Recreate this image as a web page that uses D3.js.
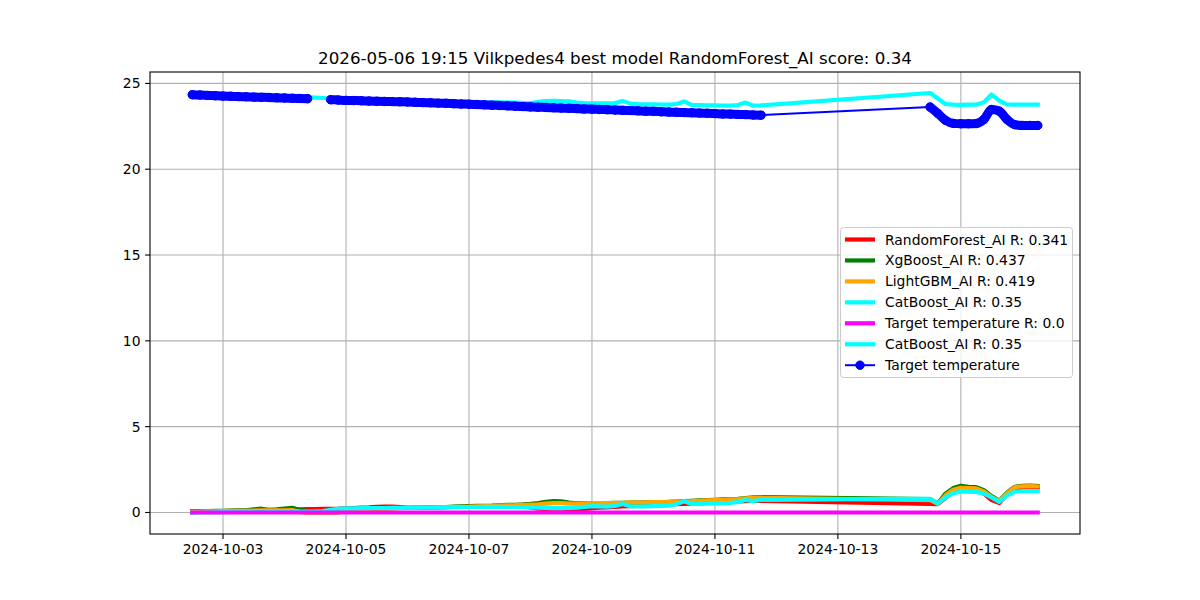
<!DOCTYPE html>
<html><head><meta charset="utf-8">
<script src="https://cdn.jsdelivr.net/npm/d3@7"></script>
<style>body{margin:0;background:#fff} svg{display:block} text{font-family:"DejaVu Sans",sans-serif}</style>
</head><body><svg id="c" width="1200" height="600"></svg>
<script>
const chartTitle = "2026-05-06 19:15 Vilkpedes4 best model RandomForest_AI score: 0.34";
const times = [
"2024-10-02 12:00","2024-10-02 15:00","2024-10-02 18:00","2024-10-02 21:00",
"2024-10-03 00:00","2024-10-03 03:00","2024-10-03 06:00","2024-10-03 09:00","2024-10-03 12:00","2024-10-03 15:00","2024-10-03 18:00","2024-10-03 21:00",
"2024-10-04 00:00","2024-10-04 03:00","2024-10-04 06:00","2024-10-04 09:00","2024-10-04 12:00","2024-10-04 15:00","2024-10-04 18:00","2024-10-04 21:00",
"2024-10-05 00:00","2024-10-05 03:00","2024-10-05 06:00","2024-10-05 09:00","2024-10-05 12:00","2024-10-05 15:00","2024-10-05 18:00","2024-10-05 21:00",
"2024-10-06 00:00","2024-10-06 03:00","2024-10-06 06:00","2024-10-06 09:00","2024-10-06 12:00","2024-10-06 15:00","2024-10-06 18:00","2024-10-06 21:00",
"2024-10-07 00:00","2024-10-07 03:00","2024-10-07 06:00","2024-10-07 09:00","2024-10-07 12:00","2024-10-07 15:00","2024-10-07 18:00","2024-10-07 21:00",
"2024-10-08 00:00","2024-10-08 03:00","2024-10-08 06:00","2024-10-08 09:00","2024-10-08 12:00","2024-10-08 15:00","2024-10-08 18:00","2024-10-08 21:00",
"2024-10-09 00:00","2024-10-09 03:00","2024-10-09 06:00","2024-10-09 09:00","2024-10-09 12:00","2024-10-09 15:00","2024-10-09 18:00","2024-10-09 21:00",
"2024-10-10 00:00","2024-10-10 03:00","2024-10-10 06:00","2024-10-10 09:00","2024-10-10 12:00","2024-10-10 15:00","2024-10-10 18:00","2024-10-10 21:00",
"2024-10-11 00:00","2024-10-11 03:00","2024-10-11 06:00","2024-10-11 09:00","2024-10-11 12:00","2024-10-11 15:00","2024-10-11 18:00",
"2024-10-14 12:00","2024-10-14 15:00","2024-10-14 18:00","2024-10-14 21:00",
"2024-10-15 00:00","2024-10-15 03:00","2024-10-15 06:00","2024-10-15 09:00","2024-10-15 12:00","2024-10-15 15:00","2024-10-15 18:00","2024-10-15 21:00",
"2024-10-16 00:00","2024-10-16 03:00","2024-10-16 06:00"
];
const targetTemp = [
24.34,24.32,24.30,24.28, 24.26,24.25,24.23,24.22,24.20,24.19,24.18,24.16,
24.15,24.13,24.12,24.11,null,null,24.05,24.03,
24.01,24.00,23.99,23.97,23.96,23.95,23.94,23.93,
23.92,23.90,23.88,23.87,23.85,23.84,23.82,23.80,
23.79,23.77,23.75,23.73,23.71,23.69,23.67,23.65,
23.63,23.61,23.60,23.58,23.56,23.55,23.53,23.51,
23.50,23.48,23.47,23.45,23.43,23.42,23.40,23.38,
23.37,23.35,23.33,23.32,23.30,23.29,23.27,23.26,
23.24,23.22,23.21,23.19,23.18,23.16,23.15,
23.62,23.25,22.85,22.67,
22.65,22.65,22.66,22.90,23.48,23.38,22.90,22.60,
22.55,22.55,22.55
];
const catBoostTop = [
24.40,24.38,24.36,24.35, 24.33,24.31,24.30,24.28,24.27,24.25,24.24,24.22,
24.21,24.20,24.19,24.18,24.17,24.15,24.12,24.10,
24.08,24.07,24.06,24.05,24.04,24.02,24.01,24.00,
23.99,23.97,23.96,23.94,23.93,23.91,23.90,23.90,
23.90,23.90,23.90,23.90,23.90,23.89,23.88,23.86,
23.85,23.92,23.97,23.98,23.97,23.95,23.88,23.85,
23.84,23.84,23.83,23.85,23.98,23.82,23.79,23.78,
23.78,23.77,23.76,23.80,23.95,23.74,23.73,23.72,
23.72,23.71,23.70,23.74,23.88,23.70,23.72,
24.44,24.12,23.80,23.76,
23.75,23.76,23.76,23.90,24.35,24.00,23.77,23.76,
23.76,23.76,23.76
];
const randomForest = [
0.05,0.06,0.07,0.08, 0.08,0.09,0.09,0.10,0.10,0.11,0.11,0.12,
0.12,0.14,0.18,0.20,0.20,0.21,0.21,0.22,
0.24,0.26,0.28,0.30,0.33,0.34,0.34,0.32,
0.28,0.27,0.28,0.29,0.30,0.31,0.32,0.33,
0.34,0.35,0.36,0.37,0.38,0.39,0.40,0.38,
0.30,0.22,0.21,0.22,0.22,0.20,0.18,0.20,
0.25,0.28,0.30,0.32,0.35,0.37,0.39,0.41,
0.43,0.45,0.46,0.48,0.50,0.52,0.54,0.56,
0.58,0.60,0.62,0.64,0.66,0.67,0.68,
0.50,0.48,0.85,1.20,
1.32,1.32,1.30,1.10,0.72,0.55,1.05,1.38,
1.45,1.45,1.45
];
const xgBoost = [
0.06,0.08,0.08,0.09, 0.10,0.11,0.12,0.13,0.18,0.22,0.16,0.18,
0.22,0.27,0.15,0.10,0.08,0.08,0.08,0.10,
0.18,0.20,0.21,0.22,0.23,0.24,0.25,0.26,
0.27,0.28,0.29,0.30,0.31,0.32,0.34,0.36,
0.37,0.38,0.39,0.40,0.42,0.44,0.45,0.47,
0.50,0.55,0.62,0.66,0.65,0.58,0.54,0.54,
0.55,0.55,0.55,0.56,0.56,0.57,0.58,0.59,
0.60,0.61,0.62,0.64,0.66,0.68,0.70,0.72,
0.74,0.76,0.78,0.80,0.84,0.88,0.90,
0.78,0.52,1.10,1.42,
1.55,1.50,1.48,1.30,0.95,0.70,1.15,1.50,
1.55,1.57,1.55
];
const lightGBM = [
0.03,0.05,0.06,0.07, 0.08,0.09,0.09,0.10,0.11,0.12,0.12,0.13,
0.13,0.14,0.02,-0.02,-0.03,-0.03,-0.02,-0.03,
0.15,0.18,0.20,0.21,0.22,0.23,0.24,0.25,
0.26,0.27,0.28,0.29,0.30,0.31,0.32,0.33,
0.34,0.36,0.37,0.38,0.40,0.42,0.43,0.45,
0.46,0.48,0.52,0.55,0.55,0.52,0.52,0.53,
0.54,0.54,0.55,0.55,0.56,0.57,0.58,0.59,
0.60,0.61,0.62,0.63,0.65,0.66,0.68,0.70,
0.72,0.74,0.76,0.78,0.82,0.85,0.86,
0.72,0.50,1.00,1.32,
1.44,1.42,1.40,1.22,0.90,0.68,1.12,1.48,
1.52,1.54,1.52
];
const catBoostLow = [
-0.02,0.00,0.00,0.01, 0.02,0.02,0.03,0.03,0.04,0.04,0.05,0.05,
0.06,0.06,0.05,0.05,0.06,0.08,0.15,0.22,
0.24,0.24,0.25,0.25,0.26,0.26,0.27,0.27,
0.28,0.28,0.29,0.29,0.30,0.30,0.31,0.31,
0.32,0.32,0.33,0.33,0.33,0.32,0.32,0.31,
0.30,0.28,0.26,0.25,0.25,0.26,0.28,0.33,
0.37,0.36,0.34,0.38,0.50,0.36,0.35,0.36,
0.37,0.38,0.40,0.48,0.66,0.50,0.50,0.52,
0.53,0.54,0.55,0.62,0.73,0.66,0.74,
0.80,0.52,0.88,1.12,
1.22,1.22,1.20,1.10,0.88,0.62,0.98,1.22,
1.24,1.24,1.24
];
const targetLineTimes = ["2024-10-02 12:00","2024-10-16 06:00"];
const targetLineValues = [0, 0];
const legendLabels = ["RandomForest_AI R: 0.341","XgBoost_AI R: 0.437","LightGBM_AI R: 0.419","CatBoost_AI R: 0.35","Target temperature R: 0.0","CatBoost_AI R: 0.35","Target temperature"];
const legendColors = ["#ff0000","#008000","#ffa500","#00ffff","#ff00ff","#00ffff","#0000ff"];
const yTickValues = [0,5,10,15,20,25];

const parse = d3.utcParse("%Y-%m-%d %H:%M");
const T = times.map(parse);
const svg = d3.select("#c");
const L = 150, R = 1080, TOP = 72, B = 534;

const allVals = [].concat(targetTemp, catBoostTop, randomForest, xgBoost, lightGBM, catBoostLow, targetLineValues).filter(v => v != null);
const yMin = d3.min(allVals), yMax = d3.max(allVals), yPad = (yMax - yMin) * 0.05;
const tExt = d3.extent(T), tPad = (tExt[1] - tExt[0]) * 0.05;
const x = d3.scaleUtc().domain([new Date(+tExt[0] - tPad), new Date(+tExt[1] + tPad)]).range([L, R]);
const y = d3.scaleLinear().domain([yMin - yPad, yMax + yPad]).range([B, TOP]);

svg.append("rect").attr("width",1200).attr("height",600).attr("fill","#fff");

const xTicks = d3.utcDay.every(2).range(x.domain()[0], x.domain()[1]);
const grid = svg.append("g");
xTicks.forEach(t => grid.append("line").attr("x1", x(t)).attr("x2", x(t)).attr("y1", TOP).attr("y2", B).attr("stroke","#b0b0b0").attr("stroke-width",1.1));
yTickValues.forEach(v => grid.append("line").attr("x1", L).attr("x2", R).attr("y1", y(v)).attr("y2", y(v)).attr("stroke","#b0b0b0").attr("stroke-width",1.1));

svg.append("clipPath").attr("id","clp").append("rect").attr("x",L).attr("y",TOP).attr("width",R-L).attr("height",B-TOP);
const plot = svg.append("g").attr("clip-path","url(#clp)");

function drawLine(tt, vals, color, w) {
  const data = tt.map((t, i) => ({t, v: vals[i]}));
  const line = d3.line().defined(d => d.v != null).x(d => x(d.t)).y(d => y(d.v));
  plot.append("path").datum(data).attr("d", line).attr("fill","none").attr("stroke", color)
    .attr("stroke-width", w).attr("stroke-linejoin","round").attr("stroke-linecap","square");
  return data;
}
drawLine(T, randomForest, "#ff0000", 4.2);
drawLine(T, xgBoost, "#008000", 4.2);
drawLine(T, lightGBM, "#ffa500", 4.2);
drawLine(T, catBoostLow, "#00ffff", 4.2);
drawLine(targetLineTimes.map(parse), targetLineValues, "#ff00ff", 4.2);
drawLine(T, catBoostTop, "#00ffff", 4.2);
const tdata = drawLine(T, targetTemp, "#0000ff", 2);
// dense markers merge into a band: draw band along consecutive samples (3h apart)
const runs = [];
let cur = [];
tdata.forEach((d, i) => {
  const prev = tdata[i - 1];
  const contiguous = prev && prev.v != null && d.v != null && (d.t - prev.t) <= 3 * 3600e3;
  if (d.v == null) { if (cur.length) runs.push(cur); cur = []; return; }
  if (!contiguous && cur.length) { runs.push(cur); cur = []; }
  cur.push(d);
});
if (cur.length) runs.push(cur);
const bandLine = d3.line().x(d => x(d.t)).y(d => y(d.v)).curve(d3.curveMonotoneX);
runs.forEach(r => plot.append("path").datum(r).attr("d", bandLine).attr("fill","none").attr("stroke","#0000ff")
  .attr("stroke-width", 9).attr("stroke-linejoin","round").attr("stroke-linecap","round"));
plot.selectAll("circle.m").data(tdata.filter(d => d.v != null)).enter().append("circle")
  .attr("cx", d => x(d.t)).attr("cy", d => y(d.v)).attr("r", 4.2).attr("fill","#0000ff").attr("stroke","#0000ff").attr("stroke-width",1);

// axes
const ax = svg.append("g");
ax.append("rect").attr("x",L).attr("y",TOP).attr("width",R-L).attr("height",B-TOP).attr("fill","none").attr("stroke","#000").attr("stroke-width",1.1);
const fmt = d3.utcFormat("%Y-%m-%d");
xTicks.forEach(t => {
  ax.append("line").attr("x1",x(t)).attr("x2",x(t)).attr("y1",B).attr("y2",B+4.9).attr("stroke","#000").attr("stroke-width",1.1);
  ax.append("text").attr("x",x(t)).attr("y",B+19.5).attr("text-anchor","middle").attr("font-size","13.9px").text(fmt(t));
});
yTickValues.forEach(v => {
  ax.append("line").attr("x1",L-4.9).attr("x2",L).attr("y1",y(v)).attr("y2",y(v)).attr("stroke","#000").attr("stroke-width",1.1);
  ax.append("text").attr("x",L-9.5).attr("y",y(v)).attr("dy","0.36em").attr("text-anchor","end").attr("font-size","13.9px").text(v);
});
svg.append("text").attr("x",(L+R)/2).attr("y",64).attr("text-anchor","middle").attr("font-size","16.7px").text(chartTitle);

// legend
const lg = svg.append("g");
const lx = 840.5, ly = 227.5, lw = 232, lh = 150;
lg.append("rect").attr("x",lx).attr("y",ly).attr("width",lw).attr("height",lh).attr("rx",3)
  .attr("fill","#fff").attr("fill-opacity",0.8).attr("stroke","#cccccc").attr("stroke-width",1);
legendLabels.forEach((lab, i) => {
  const cy = 239.5 + i * 20.95;
  const isMarker = i === legendLabels.length - 1;
  lg.append("line").attr("x1",845).attr("x2",875).attr("y1",cy).attr("y2",cy).attr("stroke",legendColors[i]).attr("stroke-width", isMarker ? 2 : 4.2);
  if (isMarker) lg.append("circle").attr("cx",860).attr("cy",cy).attr("r",4.2).attr("fill","#0000ff").attr("stroke","#0000ff");
  lg.append("text").attr("x",885).attr("y",cy).attr("dy","0.36em").attr("font-size","13.9px").text(lab);
});
</script></body></html>
